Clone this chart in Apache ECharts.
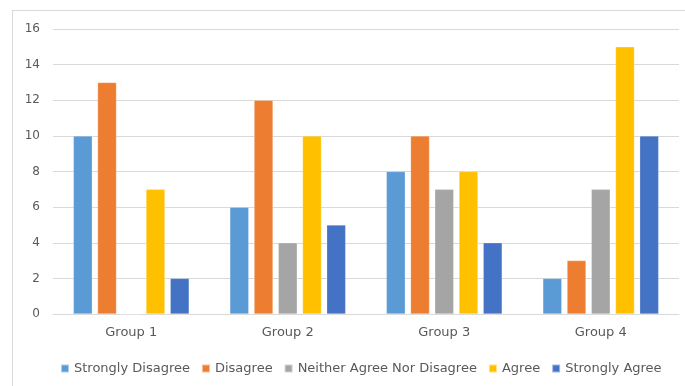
<!DOCTYPE html>
<html>
<head>
<meta charset="utf-8">
<script src="https://cdn.jsdelivr.net/npm/echarts@6/dist/echarts.min.js"></script>
<style>
  html, body { margin: 0; padding: 0; background: #fff; }
  #frame { position: absolute; left: 12px; top: 10px; width: 690px; height: 400px; border: 1px solid #d9d9d9; box-sizing: border-box; }
  #chart { position: absolute; left: 0; top: 0; width: 685px; height: 386px; }
</style>
</head>
<body>
<div id="frame"></div>
<div id="chart"></div>
<script>
// categories and series
var groups = ['Group 1', 'Group 2', 'Group 3', 'Group 4'];
var seriesNames = ['Strongly Disagree', 'Disagree', 'Neither Agree Nor Disagree', 'Agree', 'Strongly Agree'];
var stronglyDisagree = [10, 6, 8, 2];
var disagree = [13, 12, 10, 3];
var neither = [0, 4, 7, 7];
var agree = [7, 10, 8, 15];
var stronglyAgree = [2, 5, 4, 10];
var yTicks = [0, 2, 4, 6, 8, 10, 12, 14, 16];

var colors = ['#5B9BD5', '#ED7D31', '#A5A5A5', '#FFC000', '#4472C4'];
var values = [stronglyDisagree, disagree, neither, agree, stronglyAgree];

var chart = echarts.init(document.getElementById('chart'));
var font = 'DejaVu Sans';

var series = [];
for (var i = 0; i < seriesNames.length; i++) {
  series.push({
    name: seriesNames[i],
    type: 'bar',
    data: values[i],
    barGap: '28%',
    barCategoryGap: '26%',
    itemStyle: { color: colors[i], borderColor: 'rgba(255,255,255,0.5)', borderWidth: 0.5 }
  });
}

chart.setOption({
  animation: false,
  color: colors,
  grid: { left: 53, right: 6, top: 29, bottom: 72, containLabel: false },
  legend: {
    bottom: 6,
    left: 55,
    itemWidth: 8,
    itemHeight: 8,
    itemGap: 11,
    icon: 'rect',
    textStyle: { color: '#595959', fontSize: 13, fontFamily: font },
    data: seriesNames
  },
  xAxis: {
    type: 'category',
    data: groups,
    axisLine: { lineStyle: { color: '#d9d9d9' } },
    axisTick: { show: false },
    axisLabel: { color: '#595959', fontSize: 13, fontFamily: font, margin: 12 }
  },
  yAxis: {
    type: 'value',
    min: yTicks[0],
    max: yTicks[yTicks.length - 1],
    interval: 2,
    axisLine: { show: false },
    axisTick: { show: false },
    splitLine: { lineStyle: { color: '#d9d9d9' } },
    axisLabel: { color: '#595959', fontSize: 12, fontFamily: font, margin: 13 }
  },
  series: series
});
</script>
</body>
</html>
